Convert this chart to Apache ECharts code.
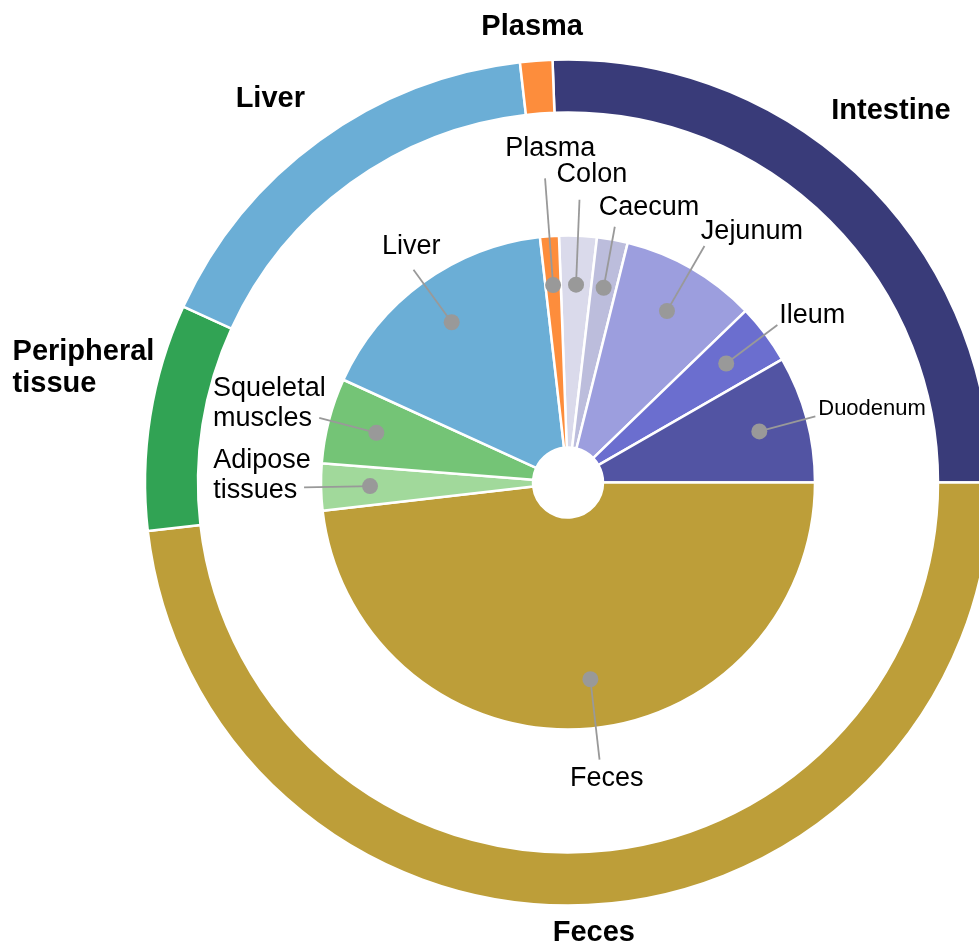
<!DOCTYPE html>
<html>
<head>
<meta charset="utf-8">
<script src="https://cdn.jsdelivr.net/npm/echarts@6/dist/echarts.min.js"></script>
<style>html,body{margin:0;padding:0;background:#fff}#c{width:979px;height:948px}</style>
</head>
<body>
<div id="c"></div>
<script>
// ---------------- data ----------------
const innerCategories = ['Colon', 'Caecum', 'Jejunum', 'Ileum', 'Duodenum', 'Feces', 'Adipose\ntissues', 'Squeletal\nmuscles', 'Liver', 'Plasma'];
const innerValues = [2.46, 2.01, 8.89, 3.92, 8.31, 48.17, 3.08, 5.58, 16.36, 1.23];
const outerCategories = ['Intestine', 'Feces', 'Peripheral\ntissue', 'Liver', 'Plasma'];
const outerValues = [25.59, 48.17, 8.66, 16.36, 1.23];

// ---------------- style ----------------
const innerColors = ['#dadaeb', '#bcbddc', '#9c9ede', '#6b6ecf', '#5254a3', '#bd9e39', '#a1d99b', '#74c476', '#6baed6', '#fd8d3c'];
const outerColors = ['#393b79', '#bd9e39', '#31a354', '#6baed6', '#fd8d3c'];
const FONT = '"Liberation Sans", Arial, sans-serif';
const CENTER = [568, 482.5];
const R_HOLE = 35, R_INNER = 247, R_RING = [370, 423], R_DOT = 195;
const START = 92.1;
// inner label placement: [line end radius, label anchor radius, anchor fraction x, anchor fraction y, pointer angle shift (deg)]
const innerLabelPlace = [
  [283, 293, 0.33, 1.0, 0],
  [260, 266, 0.17, 0.94, 0],
  [273, 276, 0.05, 0.9, 0],
  [262, 266, 0.02, 0.73, 0],
  [256, 259, 0.0, 0.78, 0],
  [279, 284, 0.41, 0.03, -3.2],
  [264, 268, 0.89, 0.7, 0],
  [257, 262, 0.9, 0.715, 0],
  [263, 273, 0.44, 1.0, 0],
  [305, 319, 0.43, 1.02, 0]
];
// outer label placement: [anchor radius, fraction x, fraction y]
const outerLabelPlace = [
  [436, 0.33, 2.3],
  [436, 0.49, 0.03],
  [436, 0.88, 1.22],
  [436, 1.1, 1.45],
  [436, 0.53, 1.15]
];

function rotate(x, y, deg) {
  const a = deg * Math.PI / 180, c = Math.cos(a), s = Math.sin(a);
  return [x * c - y * s, x * s + y * c];
}
function ray(p, hostR, shift) {
  const pts = p.labelLinePoints;
  const dx = pts[1][0] - pts[0][0], dy = pts[1][1] - pts[0][1];
  const len = Math.hypot(dx, dy) || 1;
  let ux = dx / len, uy = dy / len;
  const cx = pts[0][0] - ux * hostR, cy = pts[0][1] - uy * hostR;
  if (shift) { const r = rotate(ux, uy, shift); ux = r[0]; uy = r[1]; }
  return { ux, uy, cx, cy };
}

const chart = echarts.init(document.getElementById('c'), null, { renderer: 'canvas' });
const clear = { color: 'rgba(0,0,0,0)', borderWidth: 0 };

chart.setOption({
  animation: false,
  backgroundColor: '#ffffff',
  series: [
    {
      // outer ring
      type: 'pie', silent: true, z: 2, center: CENTER, radius: R_RING, startAngle: START,
      avoidLabelOverlap: false,
      data: outerValues.map((v, i) => ({ value: v, name: outerCategories[i], itemStyle: { color: outerColors[i] } })),
      itemStyle: { borderColor: '#ffffff', borderWidth: 2.5 },
      label: { show: true, position: 'outside', formatter: '{b}', fontFamily: FONT, fontWeight: 'bold', fontSize: 29, lineHeight: 32, color: '#000' },
      labelLine: { show: true, length: 10, length2: 0, lineStyle: { opacity: 0, width: 0 } },
      labelLayout: function (p) {
        const g = ray(p, R_RING[1], 0);
        const L = outerLabelPlace[p.dataIndex];
        const ax = g.cx + g.ux * L[0], ay = g.cy + g.uy * L[0];
        return { x: ax - L[1] * p.labelRect.width, y: ay - L[2] * p.labelRect.height, align: 'left', verticalAlign: 'top' };
      },
      emphasis: { disabled: true }
    },
    {
      // inner pie
      type: 'pie', silent: true, z: 2, center: CENTER, radius: [R_HOLE, R_INNER], startAngle: START,
      data: innerValues.map((v, i) => ({ value: v, name: innerCategories[i], itemStyle: { color: innerColors[i] } })),
      itemStyle: { borderColor: '#ffffff', borderWidth: 2.5 },
      label: { show: false }, labelLine: { show: false },
      emphasis: { disabled: true }
    },
    {
      // pointer lines + inner labels
      type: 'pie', silent: true, z: 3, center: CENTER, radius: [0, R_DOT], startAngle: START,
      avoidLabelOverlap: false,
      data: innerValues.map((v, i) => {
        const d = { value: v, name: innerCategories[i] };
        if (innerCategories[i] === 'Duodenum') d.label = { fontSize: 22, lineHeight: 26 };
        return d;
      }),
      itemStyle: clear,
      label: { show: true, position: 'outside', formatter: '{b}', fontFamily: FONT, fontSize: 27, lineHeight: 30, color: '#000' },
      labelLine: { show: true, length: 30, length2: 0, smooth: false, lineStyle: { color: '#999999', width: 1.8 } },
      labelLayout: function (p) {
        const L = innerLabelPlace[p.dataIndex];
        const g = ray(p, R_DOT, L[4]);
        const sx = g.cx + g.ux * R_DOT, sy = g.cy + g.uy * R_DOT;
        const ex = g.cx + g.ux * L[0], ey = g.cy + g.uy * L[0];
        const ax = g.cx + g.ux * L[1], ay = g.cy + g.uy * L[1];
        return {
          x: ax - L[2] * p.labelRect.width, y: ay - L[3] * p.labelRect.height,
          align: 'left', verticalAlign: 'top',
          labelLinePoints: [[sx, sy], [ex, ey], [ex, ey]]
        };
      },
      emphasis: { disabled: true }
    },
    {
      // dots
      type: 'pie', silent: true, z: 4, center: CENTER, radius: [R_DOT - 10, R_DOT + 10], startAngle: START,
      data: innerValues.map((v, i) => ({ value: v, name: innerCategories[i] })),
      itemStyle: clear,
      label: { show: true, position: 'inside', formatter: '{d|}', rich: { d: { width: 16, height: 16, borderRadius: 8, backgroundColor: '#999999' } } },
      labelLine: { show: false },
      labelLayout: function (p) {
        const shift = innerLabelPlace[p.dataIndex][4];
        const r = p.labelRect;
        const mx = r.x + r.width / 2 - CENTER[0], my = r.y + r.height / 2 - CENTER[1];
        const q = rotate(mx, my, shift);
        return { x: CENTER[0] + q[0] - r.width / 2, y: CENTER[1] + q[1] - r.height / 2, align: 'left', verticalAlign: 'top' };
      },
      emphasis: { disabled: true }
    }
  ]
});
</script>
</body>
</html>
